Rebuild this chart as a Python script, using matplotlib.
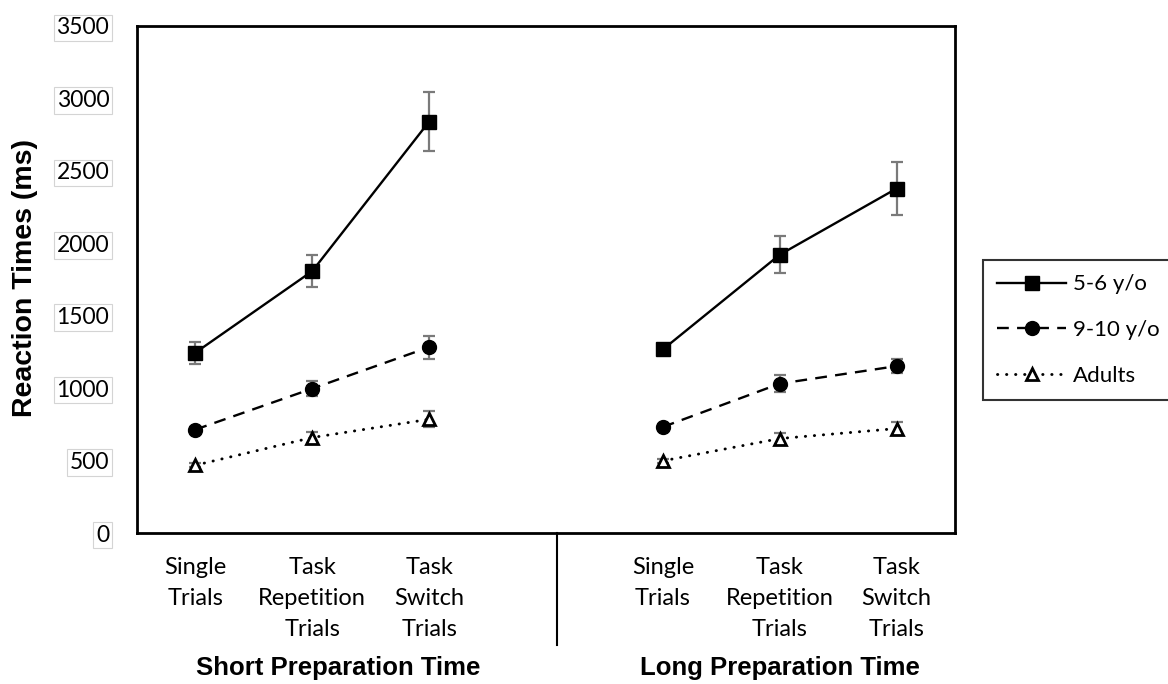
import matplotlib.pyplot as plt
from matplotlib.lines import Line2D

plt.rcParams['font.family'] = ['Lato', 'DejaVu Sans']

# trial types, repeated for the short and long preparation blocks
trial_labels = ['Single\nTrials', 'Task\nRepetition\nTrials', 'Task\nSwitch\nTrials']
positions = [0, 1, 2, 4, 5, 6]

groups = ['5-6 y/o', '9-10 y/o', 'Adults']

# mean RT (ms): short prep (3) then long prep (3)
rt_young = [1245, 1808, 2840, 1267, 1921, 2378]
rt_middle = [714, 997, 1283, 732, 1031, 1152]
rt_adults = [468, 659, 785, 498, 652, 721]

# standard errors
se_young = [75, 112, 205, 25, 128, 180]
se_middle = [20, 52, 80, 15, 60, 50]
se_adults = [15, 35, 55, 15, 40, 45]

yticks = [0, 500, 1000, 1500, 2000, 2500, 3000, 3500]

fig = plt.figure(figsize=(11.68, 6.84), dpi=100)
ax = fig.add_axes([137/1168, 1-533/684, 818/1168, 507/684])

styles = [
    dict(ls='-', marker='s', ms=10, mfc='black', mec='black', mew=1),
    dict(ls=(0, (5, 3.5)), marker='o', ms=10, mfc='black', mec='black', mew=1),
    dict(ls=(0, (0.1, 3.0)), marker='^', ms=8.5, mfc='white', mec='black', mew=2, dash_capstyle='round'),
]
data = [(rt_young, se_young), (rt_middle, se_middle), (rt_adults, se_adults)]
widths = [1.7, 1.7, 2.1]

handles = []
for (rt, se), st, lw in zip(data, styles, widths):
    for sl in (slice(0, 3), slice(3, 6)):
        ax.errorbar(positions[sl], rt[sl], yerr=se[sl], fmt='none', ecolor='#7a7a7a',
                    elinewidth=1.6, capsize=4, capthick=1.6, zorder=2)
        ax.plot(positions[sl], rt[sl], color='black', lw=lw, zorder=3, **st)
    handles.append(Line2D([], [], color='black', lw=lw, **st))

ax.set_xlim(-0.5, 6.5)
ax.set_ylim(0, 3500)
ax.set_yticks(yticks)
ax.set_yticklabels([str(v) for v in yticks], fontsize=16.5,
                   bbox=dict(boxstyle='square,pad=0.12', fc='white', ec='#d4d4d4', lw=0.8))
ax.set_xticks(positions)
ax.set_xticklabels(trial_labels * 2, fontsize=17, linespacing=1.6)
ax.tick_params(axis='y', length=0, pad=20)
ax.tick_params(axis='x', length=0, pad=17)
for s in ax.spines.values():
    s.set_linewidth(2)

fig.text(25/1168, 1-278/684, 'Reaction Times (ms)', rotation=90, ha='center', va='center',
         family='Liberation Sans', fontweight='bold', fontsize=20.5)

# divider between the two preparation conditions
fig.add_artist(Line2D([557/1168, 557/1168], [1-533/684, 1-645/684], color='black', lw=1.5))

fig.text(338/1168, 1-668/684, 'Short Preparation Time', ha='center', va='center',
         family='Liberation Sans', fontweight='bold', fontsize=18.5)
fig.text(780/1168, 1-668/684, 'Long Preparation Time', ha='center', va='center',
         family='Liberation Sans', fontweight='bold', fontsize=18.5)

leg = fig.legend(handles, groups, loc='center left', bbox_to_anchor=(983/1168, 1-330/684),
                 fontsize=16, handlelength=3.1, handletextpad=0.3, labelspacing=1.15,
                 borderpad=0.65, borderaxespad=0, frameon=True, fancybox=False, edgecolor='black')
leg.get_frame().set_linewidth(1.5)

fig.savefig('out.png', dpi=100)
